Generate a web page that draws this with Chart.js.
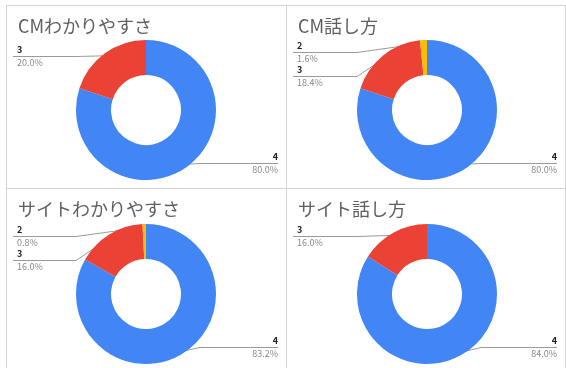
<!DOCTYPE html>
<html>
<head>
<meta charset="utf-8">
<script src="https://cdn.jsdelivr.net/npm/chart.js@4/dist/chart.umd.min.js"></script>
<style>
  html, body { margin: 0; padding: 0; background: #fff; }
  #wrap { position: relative; width: 566px; height: 368px; background: #fff; overflow: hidden; }
  .rule { position: absolute; background: #d4d4d4; }
  .panel { position: absolute; }
  .panel canvas { display: block; }
</style>
</head>
<body>
<div id="wrap">
  <div class="rule" style="left:6px;top:5px;width:560px;height:1px"></div>
  <div class="rule" style="left:6px;top:188px;width:560px;height:1px"></div>
  <div class="rule" style="left:6px;top:5px;width:1px;height:363px"></div>
  <div class="rule" style="left:286px;top:5px;width:1px;height:363px"></div>
  <div class="rule" style="left:565px;top:5px;width:1px;height:363px"></div>
  <div class="panel" style="left:6px;top:5px;width:280px;height:183px"><canvas id="c0"></canvas></div>
  <div class="panel" style="left:286px;top:5px;width:279px;height:183px"><canvas id="c1"></canvas></div>
  <div class="panel" style="left:6px;top:188px;width:280px;height:180px"><canvas id="c2"></canvas></div>
  <div class="panel" style="left:286px;top:188px;width:279px;height:180px"><canvas id="c3"></canvas></div>
</div>
<script>
// Survey ratings (125 responses per question)
const titles = ['CMわかりやすさ', 'CM話し方', 'サイトわかりやすさ', 'サイト話し方'];
const cmClarityLabels = ['4', '3'];
const cmClarity = [100, 25];
const cmSpeechLabels = ['4', '3', '2'];
const cmSpeech = [100, 23, 2];
const siteClarityLabels = ['4', '3', '2'];
const siteClarity = [104, 20, 1];
const siteSpeechLabels = ['4', '3'];
const siteSpeech = [105, 20];

const ratingColors = { '4': '#4285F4', '3': '#EA4335', '2': '#FBBC04' };

const panels = [
  { id: 'c0', w: 280, h: 183, title: titles[0], labels: cmClarityLabels, values: cmClarity, pad: { left: 70, right: 70, top: 35, bottom: 8 } },
  { id: 'c1', w: 279, h: 183, title: titles[1], labels: cmSpeechLabels, values: cmSpeech, pad: { left: 71, right: 68, top: 35, bottom: 8 } },
  { id: 'c2', w: 280, h: 180, title: titles[2], labels: siteClarityLabels, values: siteClarity, pad: { left: 70, right: 70, top: 36, bottom: 4 } },
  { id: 'c3', w: 279, h: 180, title: titles[3], labels: siteSpeechLabels, values: siteSpeech, pad: { left: 71, right: 68, top: 36, bottom: 4 } }
];

const FONT = '"Noto Sans CJK JP", "Noto Sans", sans-serif';

// Title plus callout labels with leader lines
const calloutPlugin = {
  id: 'callouts',
  beforeDatasetsDraw(chart, args, opts) {
    const ctx = chart.ctx;
    const meta = chart.getDatasetMeta(0);
    const ds = chart.data.datasets[0];
    const total = ds.data.reduce((a, b) => a + b, 0);
    const W = chart.width;
    const items = meta.data.map((arc, i) => {
      const mid = (arc.startAngle + arc.endAngle) / 2;
      const r = arc.outerRadius - 3;
      return {
        label: chart.data.labels[i],
        pct: (ds.data[i] / total * 100).toFixed(1) + '%',
        px: arc.x + Math.cos(mid) * r,
        py: arc.y + Math.sin(mid) * r,
        cx: arc.x, cy: arc.y
      };
    });
    const left = items.filter(it => it.px < it.cx).sort((a, b) => a.py - b.py);
    const right = items.filter(it => it.px >= it.cx).sort((a, b) => b.py - a.py);

    ctx.save();
    // title
    ctx.fillStyle = '#5f5f5f';
    ctx.font = '18px ' + FONT;
    ctx.textBaseline = 'middle';
    ctx.textAlign = 'left';
    ctx.fillText(opts.title, 12, 21);

    const drawLabel = (it, y, side) => {
      ctx.strokeStyle = '#9a9a9a';
      ctx.lineWidth = 1;
      ctx.beginPath();
      if (side === 'left') {
        const bend = it.cx - 70;
        ctx.moveTo(7, y + 0.5);
        ctx.lineTo(bend, y + 0.5);
        ctx.lineTo(it.px, it.py);
      } else {
        const bend = it.cx + 54;
        ctx.moveTo(W - 8, y + 0.5);
        ctx.lineTo(bend, y + 0.5);
        ctx.lineTo(it.px, it.py);
      }
      ctx.stroke();
      const tx = side === 'left' ? 11 : W - 8;
      ctx.textAlign = side === 'left' ? 'left' : 'right';
      ctx.textBaseline = 'middle';
      ctx.fillStyle = '#222';
      ctx.font = 'bold 9px ' + FONT;
      ctx.fillText(it.label, tx, y - 6);
      ctx.fillStyle = '#8a8a8a';
      ctx.font = '9px ' + FONT;
      ctx.fillText(it.pct, tx, y + 7);
    };

    let prev = -Infinity;
    left.forEach(it => {
      const y = Math.round(Math.max(it.py, it.cy - 58, prev + 24));
      prev = y;
      drawLabel(it, y, 'left');
    });
    let prevR = Infinity;
    right.forEach(it => {
      const y = Math.round(Math.min(it.py, it.cy + 53, prevR - 24));
      prevR = y;
      drawLabel(it, y, 'right');
    });
    ctx.restore();
  }
};

panels.forEach(p => {
  const cv = document.getElementById(p.id);
  cv.width = p.w; cv.height = p.h;
  new Chart(cv, {
    type: 'doughnut',
    data: {
      labels: p.labels,
      datasets: [{
        data: p.values,
        backgroundColor: p.labels.map(l => ratingColors[l]),
        borderWidth: 0
      }]
    },
    options: {
      responsive: false,
      devicePixelRatio: 1,
      animation: false,
      events: [],
      cutout: '50%',
      layout: { padding: p.pad },
      plugins: {
        legend: { display: false },
        tooltip: { enabled: false },
        title: { display: false },
        callouts: { title: p.title }
      }
    },
    plugins: [calloutPlugin]
  });
});
</script>
</body>
</html>
